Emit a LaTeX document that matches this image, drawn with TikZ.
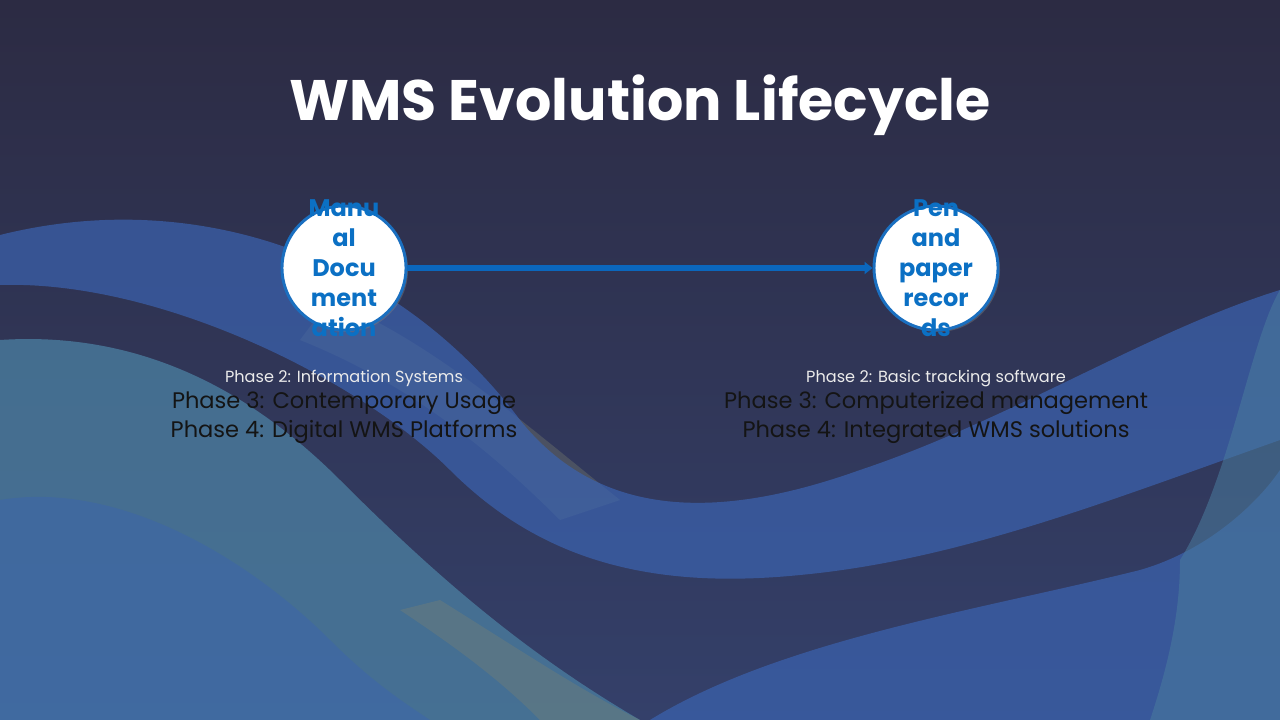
\documentclass[tikz,border=0pt]{standalone}
\usepackage{fontspec}
\setmainfont{Poppins}
\usetikzlibrary{shadows,arrows.meta}
\definecolor{bgtop}{HTML}{2C2B43}
\definecolor{bgbot}{HTML}{34406A}
\definecolor{wblue}{HTML}{3B63B0}
\definecolor{wteal}{HTML}{4A7C9E}
\definecolor{wolive}{HTML}{7C8270}
\definecolor{cblue}{HTML}{1A6FC0}
\definecolor{tblue}{HTML}{0B70C4}
\definecolor{ablue}{HTML}{0B67BD}
\tikzset{
  phase/.style={circle, draw=cblue, line width=2.2pt, fill=white, minimum size=93pt, inner sep=0pt,
    drop shadow={shadow xshift=1.5pt, shadow yshift=-1.5pt, opacity=0.4}},
  phasetext/.style={text=tblue, font=\fontsize{18}{22.5}\selectfont\bfseries, align=center, inner sep=0pt},
  small/.style={text=white!92!black, font=\fontsize{12.1}{14}\selectfont, anchor=base},
  big/.style={text=black!92, font=\fontsize{16.9}{21}\selectfont, anchor=base},
  conn/.style={draw=ablue, line width=3.8pt, -{Triangle[length=6pt,width=9pt]}}
}
\begin{document}
\begin{tikzpicture}[x=0.75pt,y=-0.75pt]
\useasboundingbox (0,0) rectangle (1280,720);
% background
\shade[top color=bgtop, bottom color=bgbot] (0,0) rectangle (1280,720);
% teal lower-left wave
\fill[wteal, opacity=0.8] (0,340) .. controls (150,330) and (260,400) .. (340,480) .. controls (430,570) and (520,650) .. (640,720) -- (0,720) -- cycle;
% olive stripe
\fill[wolive, opacity=0.35] (330,300) .. controls (430,340) and (520,420) .. (620,500) -- (560,520) .. controls (480,440) and (400,380) .. (300,340) -- cycle;
\fill[wolive, opacity=0.35] (440,600) .. controls (520,650) and (580,690) .. (640,720) -- (540,720) .. controls (500,680) and (460,650) .. (400,610) -- cycle;
% middle blue band
\fill[wblue, opacity=0.7] (0,235) .. controls (200,185) and (400,260) .. (520,420) .. controls (600,520) and (720,520) .. (860,470) .. controls (1010,420) and (1150,330) .. (1280,290)
  -- (1280,440) .. controls (1110,500) and (960,560) .. (800,575) .. controls (650,590) and (540,560) .. (450,470) .. controls (360,380) and (160,280) .. (0,285) -- cycle;
% lower-left secondary band
\fill[wblue, opacity=0.45] (0,500) .. controls (120,480) and (250,560) .. (330,640) .. controls (370,680) and (400,700) .. (430,720) -- (0,720) -- cycle;
% bottom-right wave
\fill[wblue, opacity=0.7] (650,720) .. controls (780,640) and (980,610) .. (1140,570) .. controls (1210,550) and (1260,500) .. (1280,470) -- (1280,720) -- cycle;
\fill[wteal, opacity=0.55] (1180,560) .. controls (1230,480) and (1250,340) .. (1280,290) -- (1280,720) -- (1150,720) .. controls (1170,660) and (1180,610) .. (1180,560) -- cycle;
% title
\node[text=white, font=\fontsize{42.8}{50}\selectfont\bfseries, inner sep=0pt] (title) at (640,105) {WMS Evolution Lifecycle};
% circles
\node[phase] (p1) at (344,268) {};
\node[phase] (p2) at (936,268) {};
\node[phasetext] (p1t) at (p1) {Manu\\al\\Docu\\ment\\ation};
\node[phasetext] (p2t) at (p2) {Pen\\and\\paper\\recor\\ds};
% connector
\draw[conn] (p1) -- (p2);
% descriptions
\node[small] (l2) at (344,382) {Phase 2: Information Systems};
\node[big] (l3) at (344,408) {Phase 3: Contemporary Usage};
\node[big] (l4) at (344,437) {Phase 4: Digital WMS Platforms};
\node[small] (r2) at (936,382) {Phase 2: Basic tracking software};
\node[big] (r3) at (936,408) {Phase 3: Computerized management};
\node[big] (r4) at (936,437) {Phase 4: Integrated WMS solutions};
\end{tikzpicture}
\end{document}
